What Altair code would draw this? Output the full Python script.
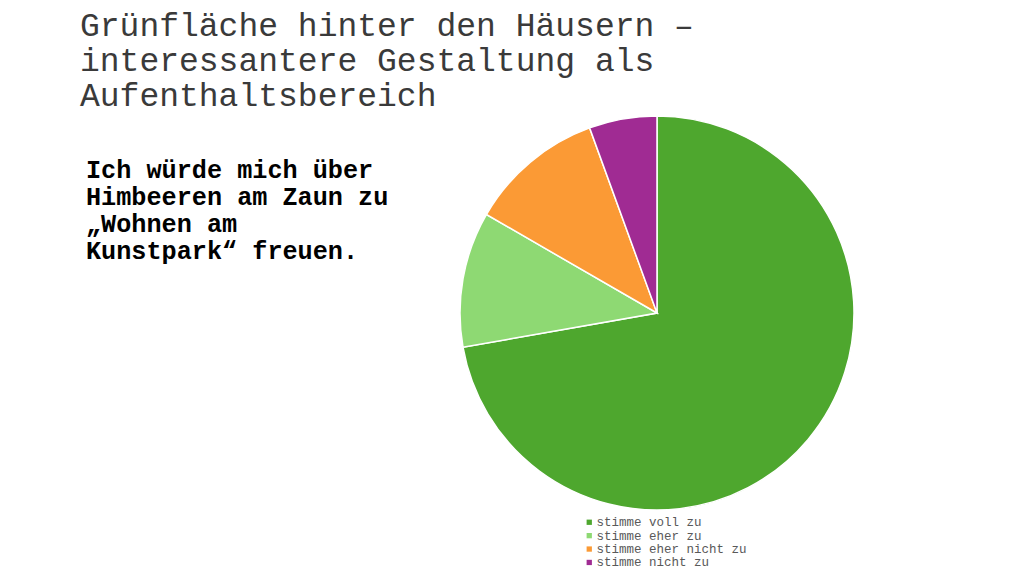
import altair as alt
import pandas as pd

categories = ["stimme voll zu", "stimme eher zu", "stimme eher nicht zu", "stimme nicht zu"]
values = [13, 2, 2, 1]
colors = ["#4ea72e", "#8ed973", "#fb9a35", "#a02b93"]
title_lines = ["Grünfläche hinter den Häusern –", "interessantere Gestaltung als", "Aufenthaltsbereich"]
question_lines = ["Ich würde mich über", "Himbeeren am Zaun zu", "„Wohnen am", "Kunstpark“ freuen."]

df = pd.DataFrame({"cat": categories, "val": values, "order": list(range(len(categories)))})

pie = alt.Chart(df).mark_arc(stroke="white", strokeWidth=1.5, radius=197).encode(
    theta=alt.Theta("val:Q", stack=True),
    order=alt.Order("order:Q"),
    color=alt.Color(
        "cat:N",
        scale=alt.Scale(domain=categories, range=colors),
        legend=alt.Legend(
            title=None,
            orient="none",
            legendX=575,
            legendY=508,
            symbolType="square",
            symbolSize=28,
            symbolStrokeWidth=0,
            labelFont="Liberation Mono",
            labelFontSize=12.5,
            labelColor="#595959",
            rowPadding=0.4,
            padding=0,
            labelOffset=1,
        ),
    ),
    x=alt.value(649),
    y=alt.value(305),
)

title_df = pd.DataFrame({"t": [title_lines]})
title = alt.Chart(title_df).mark_text(
    font="Liberation Mono", fontSize=33, color="#3a3a3a", align="left",
    baseline="alphabetic", lineHeight=35,
).encode(text="t", x=alt.value(72), y=alt.value(28))

q_df = pd.DataFrame({"t": [question_lines]})
question = alt.Chart(q_df).mark_text(
    font="Liberation Mono", fontSize=25.2, fontWeight="bold", color="#000000", align="left",
    baseline="alphabetic", lineHeight=27,
).encode(text="t", x=alt.value(78), y=alt.value(170))

chart = alt.layer(pie, title, question).properties(
    width=1008, height=568, autosize=alt.AutoSizeParams(type="none"), padding=0,
).configure_view(stroke=None)

chart.save("out.html", embed_options={"renderer": "svg", "actions": False})
